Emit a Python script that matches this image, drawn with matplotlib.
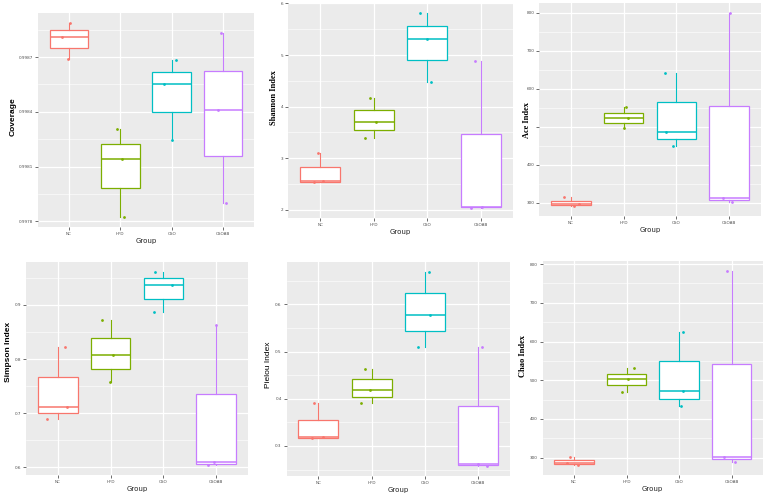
import numpy as np
import matplotlib
matplotlib.use("Agg")
import matplotlib.pyplot as plt

# groups and ggplot default hue colours
groups = ["NC", "HFD", "CSO", "CSOAB"]
colors = ["#F8766D", "#7CAE00", "#00BFC4", "#C77CFF"]

# sample values per group (3 mice each)
coverage = [[0.998687, 0.998812, 0.998888],
            [0.997822, 0.998143, 0.998305],
            [0.998243, 0.998551, 0.998682],
            [0.997901, 0.998412, 0.998834]]
shannon = [[2.53, 2.56, 3.10],
           [3.40, 3.70, 4.17],
           [4.48, 5.32, 5.82],
           [2.03, 2.06, 4.89]]
ace = [[290, 295, 314],
       [496, 523, 551],
       [450, 485, 642],
       [301, 311, 800]]
simpson = [[0.690, 0.711, 0.822],
           [0.758, 0.807, 0.872],
           [0.887, 0.936, 0.961],
           [0.604, 0.610, 0.862]]
pielou = [[0.317, 0.318, 0.392],
          [0.390, 0.418, 0.464],
          [0.509, 0.577, 0.669],
          [0.257, 0.261, 0.510]]
chao = [[280, 285, 302],
        [470, 503, 531],
        [433, 472, 625],
        [289, 301.5, 783]]

# horizontal jitter of the points (category units), same order as values
coverage_dx = [[-0.01, -0.13, 0.03], [0.07, 0.03, -0.06], [0.0, -0.15, 0.09], [0.06, -0.10, -0.05]]
shannon_dx = [[-0.11, 0.05, -0.04], [-0.16, 0.05, -0.07], [0.06, 0.0, -0.14], [-0.19, 0.02, -0.11]]
ace_dx = [[0.07, 0.15, -0.13], [0.0, 0.09, 0.04], [-0.06, -0.20, -0.22], [0.06, -0.11, 0.02]]
simpson_dx = [[-0.20, 0.17, 0.14], [-0.01, 0.05, -0.17], [-0.17, 0.16, -0.16], [-0.16, -0.04, -0.01]]
pielou_dx = [[-0.13, 0.08, -0.08], [-0.20, -0.04, -0.13], [-0.13, 0.10, 0.08], [0.17, -0.01, 0.08]]
chao_dx = [[0.08, -0.14, -0.08], [-0.09, 0.03, 0.14], [0.04, 0.07, 0.08], [0.06, -0.14, -0.09]]

coverage_ticks = [0.9978, 0.9981, 0.9984, 0.9987]
shannon_ticks = [2, 3, 4, 5, 6]
ace_ticks = [300, 400, 500, 600, 700, 800]
simpson_ticks = [0.6, 0.7, 0.8, 0.9]
pielou_ticks = [0.3, 0.4, 0.5, 0.6]
chao_ticks = [300, 400, 500, 600, 700, 800]

W, H = 767, 493
fig = plt.figure(figsize=(W / 100, H / 100), dpi=100)
fig.patch.set_facecolor("white")

SERIF = "Liberation Serif"
SANS = "Liberation Sans"


def panel(box_px, vals, dxs, ticks, fmt, ylabel, ylab_xy, lab_font, lab_weight,
          hidden=()):
    x0, y0, x1, y1 = box_px
    ax = fig.add_axes([x0 / W, 1 - y1 / H, (x1 - x0) / W, (y1 - y0) / H])
    ax.set_facecolor("#EBEBEB")
    for s in ax.spines.values():
        s.set_visible(False)

    allv = np.concatenate([np.array(v, dtype=float) for v in vals])
    lo, hi = allv.min(), allv.max()
    r = hi - lo
    ax.set_ylim(lo - 0.05 * r, hi + 0.05 * r)
    ax.set_xlim(0.4, 4.6)

    # grid: major + minor at midpoints
    step = ticks[1] - ticks[0]
    minors = [t - step / 2 for t in ticks] + [ticks[-1] + step / 2]
    for m in minors:
        ax.axhline(m, color="white", lw=0.4, zorder=0)
    for t in ticks:
        ax.axhline(t, color="white", lw=0.9, zorder=0)
    for i in range(1, 5):
        ax.axvline(i, color="white", lw=0.9, zorder=0)

    for i, (v, dx, c) in enumerate(zip(vals, dxs, colors)):
        pos = i + 1
        ax.boxplot([v], positions=[pos], widths=0.75, patch_artist=True,
                   showcaps=False, showfliers=False, whis=1.5,
                   boxprops=dict(facecolor="white", edgecolor=c, linewidth=0.9),
                   medianprops=dict(color=c, linewidth=1.1),
                   whiskerprops=dict(color=c, linewidth=0.8), zorder=2)
        ax.scatter(pos + np.array(dx), v, s=4, color=c, zorder=3, linewidths=0)

    ax.set_yticks(ticks)
    # the reference hides a tick label where the axis title sits on it
    ax.set_yticklabels(["" if t in hidden else fmt.format(t) for t in ticks])
    ax.set_xticks(range(1, 5))
    ax.set_xticklabels(groups)
    ax.tick_params(axis="both", length=2, width=0.5, color="#333333",
                   labelsize=3, labelcolor="#4D4D4D", pad=1.5)
    ax.set_xlabel("Group", fontsize=5, labelpad=1.5, color="#222222")

    fig.text(ylab_xy[0] / W, 1 - ylab_xy[1] / H, ylabel, rotation=90,
             ha="center", va="center", fontsize=6, family=lab_font,
             weight=lab_weight, color="black")
    return ax


panel((38, 13, 254, 227), coverage, coverage_dx, coverage_ticks, "{:.4f}",
      "Coverage", (13, 117), SANS, "bold")
panel((288, 3, 513, 218), shannon, shannon_dx, shannon_ticks, "{:d}",
      "Shannon Index", (274, 98), SERIF, "bold")
panel((539, 3, 761, 216), ace, ace_dx, ace_ticks, "{:d}",
      "Ace Index", (527, 120), SERIF, "bold", hidden=(500,))
panel((26, 262, 248, 475), simpson, simpson_dx, simpson_ticks, "{:.1f}",
      "Simpson Index", (9, 352), SANS, "bold")
panel((286.5, 262, 510, 476), pielou, pielou_dx, pielou_ticks, "{:.1f}",
      "Pielou Index", (268.5, 365), SANS, "normal")
panel((542.5, 261, 763, 475), chao, chao_dx, chao_ticks, "{:d}",
      "Chao Index", (523, 356), SERIF, "bold")

fig.savefig("out.png", dpi=100)
